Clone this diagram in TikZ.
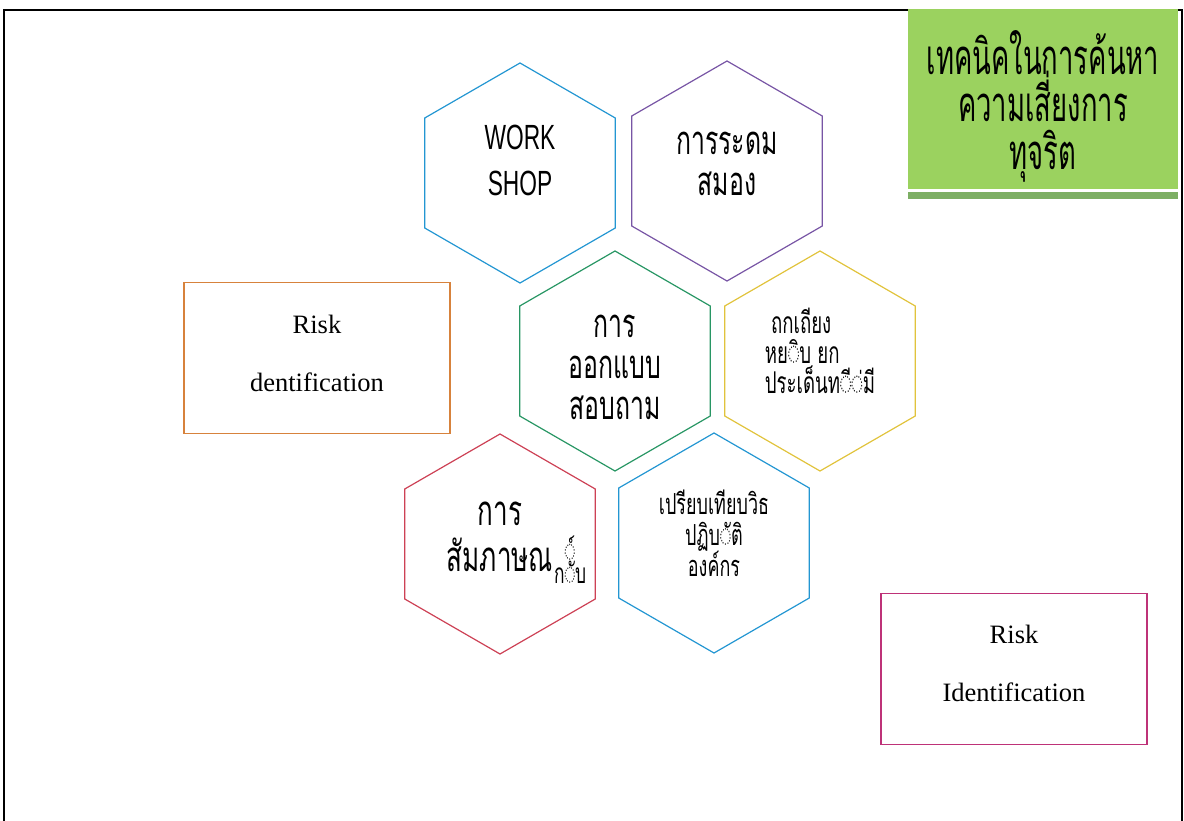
\documentclass[tikz,border=0pt]{standalone}
\usepackage{fontspec}
\setmainfont{Liberation Serif}
\newfontfamily\thaifont[Script=Thai,FakeStretch=0.62]{Loma}
\newfontfamily\headfont[Script=Thai,FakeStretch=0.56]{Loma}
\newfontfamily\narrowsans[FakeStretch=0.65]{Liberation Sans}
\usetikzlibrary{positioning,shapes.geometric}

\definecolor{hexblue}{RGB}{35,150,210}
\definecolor{hexpurple}{RGB}{120,85,165}
\definecolor{hexgreen}{RGB}{40,150,100}
\definecolor{hexyellow}{RGB}{225,195,60}
\definecolor{hexred}{RGB}{205,65,85}
\definecolor{boxorange}{RGB}{215,130,60}
\definecolor{boxmagenta}{RGB}{190,50,120}
\definecolor{headgreen}{RGB}{155,210,95}
\definecolor{headshadow}{RGB}{125,175,100}

\newcommand{\thaisize}[2]{\thaifont\fontsize{#1}{#2}\selectfont\lineskiplimit=-\maxdimen}

\begin{document}
\begin{tikzpicture}[x=1pt,y=-1pt,node distance=2mm and 2mm,
  hexa/.style={draw=#1,regular polygon,regular polygon sides=6,shape border rotate=30,
    minimum size=220pt,inner sep=0pt,line width=1.2pt},
  hexlabel/.style={align=center,inner sep=0pt},
  riskbox/.style={draw=#1,line width=1.2pt,minimum width=266pt,minimum height=151pt},
  risklabel/.style={align=center,inner sep=0pt,font=\fontsize{26.5}{58}\selectfont}]
  \useasboundingbox (0,0) rectangle (1184,821);
  \draw[line width=1.8pt] (4,821) -- (4,10) -- (1182,10) -- (1182,821);
  % heading box
  \fill[headshadow] (908,192) rectangle (1178,199);
  \node[fill=headgreen,minimum width=270pt,minimum height=180pt] (head) at (1043,99) {};
  \node[align=center,inner sep=0pt,font={\headfont\fontsize{49}{47.5}\selectfont\lineskiplimit=-\maxdimen}]
    (headtext) at ([yshift=-7pt]head.center) {เทคนิคในการค้นหา\\ความเสี่ยงการ\\ทุจริต};
  % hexagons
  \node[hexa=hexgreen] (h3) at (615,361) {};
  \node[hexa=hexblue,on grid,above left=188pt and 95pt of h3] (h1) {};
  \node[hexa=hexpurple,on grid,above right=190pt and 112pt of h3] (h2) {};
  \node[hexa=hexyellow,on grid,right=205pt of h3] (h4) {};
  \node[hexa=hexred,on grid,below left=183pt and 115pt of h3] (h5) {};
  \node[hexa=hexblue,on grid,below right=182pt and 99pt of h3] (h6) {};
  \node[hexlabel,font=\narrowsans\fontsize{35}{46}\selectfont] (t1) at ([yshift=13pt]h1.center) {WORK\\SHOP};
  \node[hexlabel,font=\thaisize{40}{41}] (t2) at ([yshift=7pt]h2.center) {การระดม\\สมอง};
  \node[hexlabel,font=\thaisize{40}{41}] (t3) at ([yshift=-6pt]h3.center) {การ\\ออกแบบ\\สอบถาม};
  \node[hexlabel,align=left,font=\thaisize{30}{30}] (t4) at ([yshift=10pt]h4.center) {\ ถกเถียง\\หย◌ิบ ยก\\ประเด็นท◌ี◌่มี};
  \node[hexlabel,font=\thaisize{42}{46}] (t5) at ([yshift=1pt]h5.center)
    {การ\\สัมภาษณ\rlap{\hspace{1pt}\raisebox{-12pt}{\thaisize{28}{28}ก\rlap{\raisebox{23pt}{◌์}}◌ับ}}};
  \node[hexlabel,font=\thaisize{29}{31}] (t6) at ([yshift=10pt]h6.center) {เปรียบเทียบวิธ\\ปฏิบ◌ัติ\\องค์กร};
  % risk boxes
  \node[riskbox=boxorange] (r1) at (317,358) {};
  \node[risklabel] (rt1) at ([yshift=5pt]r1.center) {Risk\\dentification};
  \node[riskbox=boxmagenta] (r2) at (1014,669) {};
  \node[risklabel] (rt2) at ([yshift=6pt]r2.center) {Risk\\Identification};
\end{tikzpicture}
\end{document}
